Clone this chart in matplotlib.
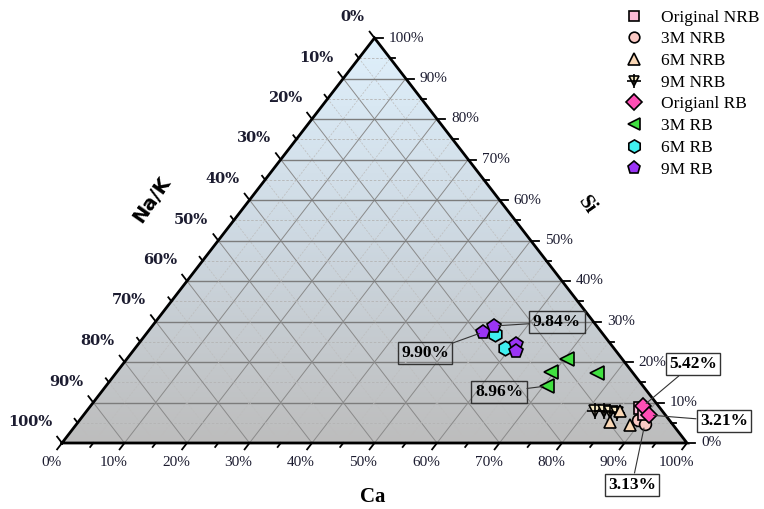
import numpy as np
import matplotlib.pyplot as plt
from matplotlib.legend_handler import HandlerTuple
from matplotlib.patches import Polygon
from matplotlib.colors import LinearSegmentedColormap

# Ca and Si contents in %, Na/K is the remainder
orig_nrb_ca = [88.2, 89.5]
orig_nrb_si = [8.6, 7.2]
m3_nrb_ca = [89.3, 90.9]
m3_nrb_si = [5.7, 4.7]
m6_nrb_ca = [85.1, 85.3, 88.7]
m6_nrb_si = [5.2, 7.9, 4.4]
m9_nrb_ca = [81.3, 82.8, 83.8, 85.1]
m9_nrb_si = [7.9, 7.9, 7.7, 7.4]
orig_rb_ca = [88.4, 90.5]
orig_rb_si = [9.1, 6.9]
m3_rb_ca = [70.5, 69.5, 70.6, 77.0]
m3_rb_si = [20.7, 17.5, 14.1, 17.3]
m6_rb_ca = [55.8, 59.1]
m6_rb_si = [26.9, 23.5]
m9_rb_ca = [53.7, 54.7, 60.4, 61.3]
m9_rb_si = [27.4, 28.9, 24.4, 22.7]

tick_values = list(range(0, 101, 10))


def tern(ca, si):
    ca = np.asarray(ca, dtype=float) / 100
    si = np.asarray(si, dtype=float) / 100
    return ca + si / 2, si


fig = plt.figure(figsize=(7.64, 5.09), dpi=100)
W, H = 625, 405
ax = fig.add_axes([62 / 764, (509 - 443) / 509, W / 764, H / 509])
ax.set_xlim(0, 1)
ax.set_ylim(0, 1)
ax.axis("off")

# background gradient inside the triangle
cmap = LinearSegmentedColormap.from_list("bg", ["#bdbdbd", "#cdd8e1", "#dff0fc"])
grad = np.linspace(0, 1, 256).reshape(-1, 1)
im = ax.imshow(grad, extent=[0, 1, 0, 1], origin="lower", cmap=cmap,
               aspect="auto", zorder=0)
tri = Polygon([[0, 0], [1, 0], [0.5, 1]], closed=True, fc="none", ec="none",
              transform=ax.transData)
ax.add_patch(tri)
im.set_clip_path(tri)

# grid
for k in range(5, 100, 5):
    v = k / 100
    if k % 10 == 0:
        hs = dict(color="#7c7c7c", lw=1.0, zorder=1)
        ds = dict(color="#8a8a8a", lw=0.7, zorder=1)
    else:
        hs = dict(color="#b4b4b4", lw=0.6, ls=(0, (3, 2)), zorder=1)
        ds = dict(color="#bdbdbd", lw=0.5, ls=(0, (3, 2)), zorder=1)
    ax.plot([v / 2, 1 - v / 2], [v, v], **hs)
    ax.plot([v, v + (1 - v) / 2], [0, 1 - v], **ds)
    ax.plot([(1 - v) / 2, 1 - v], [1 - v, 0], **ds)

ax.plot([0, 1, 0.5, 0], [0, 0, 1, 0], color="black", lw=2,
        solid_joinstyle="miter", clip_on=False, zorder=3)

# ticks
ul = np.array([-312, 405]) / np.hypot(312, 405)
for k in range(0, 101, 5):
    v = k / 100
    L = 8 if k % 10 == 0 else 5
    # bottom (Ca)
    dx, dy = ul[0] * L / W, -ul[1] * L / H
    ax.plot([v, v + dx], [0, dy], color="black", lw=1.3, clip_on=False, zorder=3)
    # left (Na/K)
    x0, y0 = (1 - v) / 2, 1 - v
    dx, dy = ul[0] * L / W, ul[1] * L / H
    ax.plot([x0, x0 + dx], [y0, y0 + dy], color="black", lw=1.3, clip_on=False, zorder=3)
    # right (Si)
    x0, y0 = 1 - v / 2, v
    ax.plot([x0, x0 + L / W], [y0, y0], color="black", lw=1.3, clip_on=False, zorder=3)

tick_col = "#1c1c30"
for t in tick_values:
    v = t / 100
    ax.annotate(f"{t}%", (v, 0), xytext=(-11, -19), textcoords="offset pixels",
                ha="center", va="center", fontsize=11, family="Liberation Serif",
                color=tick_col, annotation_clip=False)
    ax.annotate(f"{t}%", (1 - v / 2, v), xytext=(14, 0), textcoords="offset pixels",
                ha="left", va="center", fontsize=11, family="Liberation Serif",
                color=tick_col, annotation_clip=False)
    ax.annotate(f"{t}%", ((1 - v) / 2, 1 - v), xytext=(-10, 21), textcoords="offset pixels",
                ha="right", va="center", fontsize=10.5, family="DejaVu Serif",
                weight="bold", color=tick_col, annotation_clip=False)

fig.text(373 / 764, 1 - 497 / 509, "Ca", ha="center", va="center",
         fontsize=15, family="Liberation Serif", weight="bold")
fig.text(587 / 764, 1 - 205 / 509, "Si", ha="center", va="center",
         fontsize=15, family="Liberation Serif", weight="bold", rotation=-55)
fig.text(152 / 764, 1 - 200 / 509, "Na/K", ha="center", va="center",
         fontsize=14, family="DejaVu Sans", weight="bold", rotation=55)

# data points
mk = dict(ls="none", mec="black", mew=1.2, zorder=5)
x, y = tern(m9_nrb_ca, m9_nrb_si)
h9n = ax.plot(x, y, marker="v", ms=8.5, mfc="#f6e9c3", **mk)[0]
h9n_plus = ax.plot(x, y, marker="+", ms=11, mec="black", mew=1.2, ls="none", zorder=5)[0]
x, y = tern(m6_nrb_ca, m6_nrb_si)
h6n = ax.plot(x, y, marker="^", ms=9, mfc="#fad7b5", **mk)[0]
x, y = tern(m3_nrb_ca, m3_nrb_si)
h3n = ax.plot(x, y, marker="o", ms=8.5, mfc="#fbc9c4", **mk)[0]
x, y = tern(orig_nrb_ca, orig_nrb_si)
hon = ax.plot(x, y, marker="s", ms=8.5, mfc="#f9b9d5", **mk)[0]
x, y = tern(orig_rb_ca, orig_rb_si)
hor = ax.plot(x, y, marker="D", ms=8.5, mfc="#ff4eb5", **mk)[0]
x, y = tern(m3_rb_ca, m3_rb_si)
h3r = ax.plot(x, y, marker="<", ms=10, mfc="#40e040", **mk)[0]
x, y = tern(m6_rb_ca, m6_rb_si)
h6r = ax.plot(x, y, marker="h", ms=10.5, mfc="#40f0f0", **mk)[0]
x, y = tern(m9_rb_ca, m9_rb_si)
h9r = ax.plot(x, y, marker="p", ms=10.5, mfc="#9b35f5", **mk)[0]

# annotation boxes
notes = [
    ("9.84%", tern(m9_rb_ca[1], m9_rb_si[1]), (557, 322)),
    ("9.90%", tern(m9_rb_ca[0], m9_rb_si[0]), (425, 353)),
    ("8.96%", tern(m3_rb_ca[2], m3_rb_si[2]), (499, 392)),
    ("5.42%", tern(orig_rb_ca[0], orig_rb_si[0]), (693, 364)),
    ("3.21%", tern(orig_rb_ca[1], orig_rb_si[1]), (724, 421)),
    ("3.13%", tern(m3_nrb_ca[1], m3_nrb_si[1]), (632, 485)),
]
for txt, xy, (px, py) in notes:
    ax.annotate(txt, xy=(float(xy[0]), float(xy[1])), xytext=(px, 509 - py),
                textcoords="figure pixels", ha="center", va="center",
                fontsize=12.5, family="Liberation Serif", weight="bold",
                bbox=dict(boxstyle="square,pad=0.2", fc="none", ec="#333333", lw=1),
                arrowprops=dict(arrowstyle="-", color="#333333", lw=0.8,
                                shrinkA=0, shrinkB=3),
                annotation_clip=False, zorder=6)

handles = [hon, h3n, h6n, (h9n, h9n_plus), hor, h3r, h6r, h9r]
labels = ["Original NRB", "3M NRB", "6M NRB", "9M NRB",
          "Origianl RB", "3M RB", "6M RB", "9M RB"]
fig.legend(handles, labels, loc="upper left", bbox_to_anchor=(625 / 764, 1 - 9.5 / 509),
           frameon=False, handlelength=1.0, handletextpad=1.1, borderaxespad=0,
           borderpad=0, labelspacing=0.32, markerscale=0.9,
           handler_map={tuple: HandlerTuple()},
           prop=dict(family="Liberation Serif", size=12.5))

fig.savefig("out.png", dpi=100)
